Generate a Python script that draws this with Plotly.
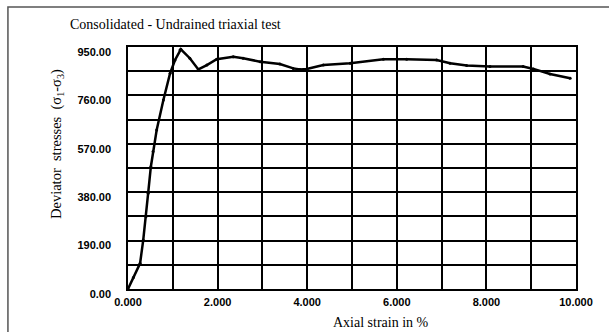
import plotly.graph_objects as go

# Axial strain (%) and deviator stress readings
strain = [0.00, 0.12, 0.27, 0.34, 0.40, 0.45, 0.51, 0.56, 0.64, 0.79, 0.94, 1.05,
          1.16, 1.18, 1.38, 1.57, 1.76, 1.98, 2.35, 2.57, 2.95, 3.39, 3.69, 3.84,
          3.99, 4.36, 4.96, 5.70, 6.22, 6.89, 7.19, 7.56, 8.08, 8.82, 9.05, 9.42, 9.87]
stress = [0, 45, 101, 192, 284, 376, 480, 540, 624, 742, 847, 899,
          938, 941, 906, 862, 879, 902, 912, 906, 892, 883, 866, 862,
          864, 879, 886, 902, 902, 899, 886, 877, 873, 873, 864, 844, 827]

y_ticks = [0, 190, 380, 570, 760, 950]
y_labels = ["0.00", "190.00", "380.00", "570.00", "760.00", "950.00"]
x_ticks = [0, 2, 4, 6, 8, 10]
x_labels = ["0.000", "2.000", "4.000", "6.000", "8.000", "10.000"]

serif = "Liberation Serif"
tick_font = dict(family="Liberation Sans", size=11, color="black", weight="bold")

fig = go.Figure()
fig.add_trace(go.Scatter(
    x=strain, y=stress, mode="lines+markers",
    line=dict(color="black", width=2.5),
    marker=dict(color="black", size=3),
    showlegend=False,
))

fig.update_layout(
    width=609, height=332,
    margin=dict(l=128, r=33, t=47, b=43),
    paper_bgcolor="white", plot_bgcolor="white",
    xaxis=dict(
        range=[0, 10], tickvals=x_ticks, ticktext=x_labels,
        showgrid=True, gridcolor="black", gridwidth=1.5,
        minor=dict(dtick=1, showgrid=True, gridcolor="black", gridwidth=1.5),
        showline=True, linecolor="black", linewidth=1.5, mirror=True,
        zeroline=False, ticks="", tickfont=tick_font, ticklabelstandoff=2,
    ),
    yaxis=dict(
        range=[0, 950], tickvals=y_ticks, ticktext=y_labels,
        showgrid=True, gridcolor="black", gridwidth=1.5,
        minor=dict(dtick=95, showgrid=True, gridcolor="black", gridwidth=1.5),
        showline=True, linecolor="black", linewidth=1.5, mirror=True,
        zeroline=False, ticks="", tickfont=tick_font,
        ticklabelstandoff=13, ticklabelshift=5,
    ),
    shapes=[dict(type="rect", xref="paper", yref="paper",
                 x0=-0.268, x1=1.2, y0=-0.3, y1=1.165,
                 line=dict(color="#555555", width=1.5), layer="below")],
    annotations=[
        dict(text="Consolidated - Undrained triaxial test", xref="paper", yref="paper",
             x=0.105, y=1.091, showarrow=False, xanchor="center", yanchor="middle",
             font=dict(family=serif, size=14, color="black")),
        dict(text="Deviator&nbsp; stresses&nbsp; (σ<sub>1</sub>-σ<sub>3</sub>)",
             xref="paper", yref="paper", x=-0.158, y=0.60, textangle=-90,
             showarrow=False, xanchor="center", yanchor="middle",
             font=dict(family=serif, size=14.5, color="black")),
        dict(text="Axial strain in %", xref="paper", yref="paper",
             x=0.565, y=-0.140, showarrow=False, xanchor="center", yanchor="middle",
             font=dict(family=serif, size=14, color="black")),
    ],
)

fig.write_html("out.html")
